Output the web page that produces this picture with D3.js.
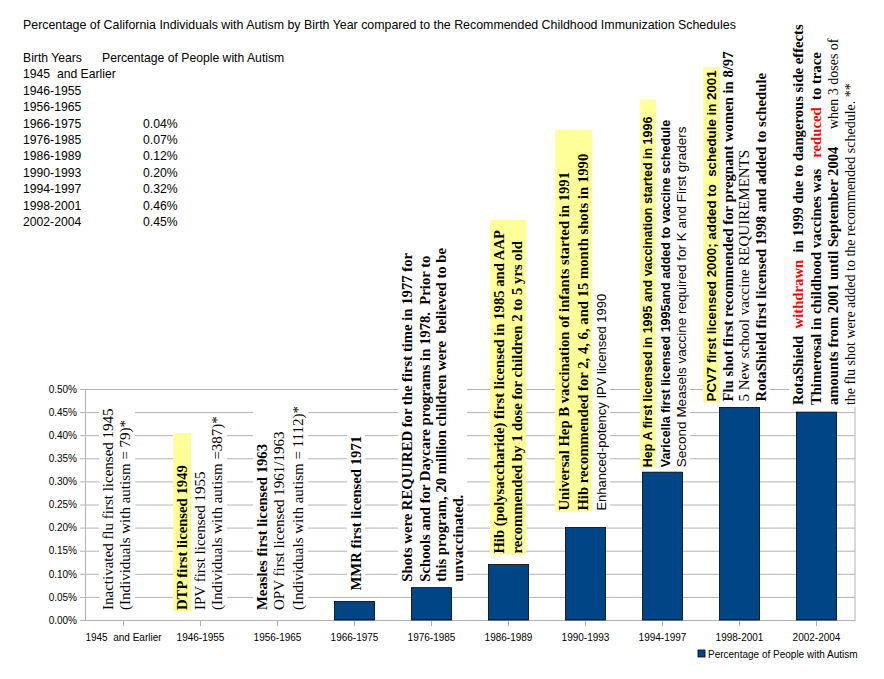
<!DOCTYPE html>
<html>
<head>
<meta charset="utf-8">
<script src="https://cdn.jsdelivr.net/npm/d3@7"></script>
<style>
  body { margin: 0; background: #fff; }
  text { white-space: pre; }
</style>
</head>
<body>
<div id="chart"></div>
<script>
// Chart data
const title = "Percentage of California Individuals with Autism by Birth Year compared to the Recommended Childhood Immunization Schedules";
const categories = ["1945  and Earlier", "1946-1955", "1956-1965", "1966-1975", "1976-1985", "1986-1989", "1990-1993", "1994-1997", "1998-2001", "2002-2004"];
const autismPct = [null, null, null, 0.04, 0.07, 0.12, 0.20, 0.32, 0.46, 0.45];
const yTicks = [0, 0.05, 0.10, 0.15, 0.20, 0.25, 0.30, 0.35, 0.40, 0.45, 0.50];
const tableHeaders = ["Birth Years", "Percentage of People with Autism"];
const seriesName = "Percentage of People with Autism";

// Vaccine notes for each birth-year group: lines of [style, text] segments
const notes = [
    [[["r", "Inactivated flu first licensed 1945"]],
     [["r", "(Individuals with autism = 79)*"]]],
    [[["b", "DTP first licensed 1949"]],
     [["r", "IPV first licensed 1955"]],
     [["r", "(Individuals with autism =387)*"]]],
    [[["b", "Measles first licensed 1963"]],
     [["r", "OPV first licensed 1961/1963"]],
     [["r", "(Individuals with autism = 1112)*"]]],
    [[["b", "MMR first licensed 1971"]]],
    [[["b", "Shots were REQUIRED for the first time in 1977 for"]],
     [["b", "Schools and for Daycare programs in 1978.  Prior to"]],
     [["b", "this program, 20 million children were  believed to be"]],
     [["b", "unvaccinated."]]],
    [[["b", "Hib (polysaccharide) first licensed in 1985 and AAP"]],
     [["b", "recommended by 1 dose for children 2 to 5 yrs old"]]],
    [[["b", "Universal Hep B vaccination of infants started in 1991"]],
     [["b", "Hib recommended for 2, 4, 6, and 15 month shots in 1990"]],
     [["s13", "Enhanced-potency IPV licensed 1990"]]],
    [[["sb", "Hep A first licensed in 1995 and vaccination started in 1996"]],
     [["sb", "Varicella first licensed 1995and added to vaccine schedule"]],
     [["s", "Second Measels vaccine required for K and First graders"]]],
    [[["sb2", "PCV7 first licensed 2000; added to  schedule in 2001"]],
     [["b", "Flu shot first recommended for pregnant women in 8/97"]],
     [["r", "5 New school vaccine REQUIREMENTS"]],
     [["b", "RotaShield first licensed 1998 and added to schedule"]]],
    [[["b", "RotaShield  "], ["red", "withdrawn"], ["b", "  in 1999 due to dangerous side effects"]],
     [["b", "Thimerosal in childhood vaccines was   "], ["red", "reduced"], ["b", "  to trace"]],
     [["b", "amounts from 2001 until September 2004"], ["r14", "     when 3 doses of"]],
     [["r14", "the flu shot were added to the recommended schedule. **"]]]
];

// Placement of the notes (offsets from the column centre, gap above bar)
const noteLayout = [
    { dx: [-16, 1], gap: 10 },
    { dx: [-19, -1, 16], gap: 10, hi: [0], extra: 32 },
    { dx: [-16, 1, 20], gap: 10 },
    { dx: [1], gap: 11 },
    { dx: [-25, -7, 9, 26], gap: 6 },
    { dx: [-10, 8], gap: 11, hi: [0, 1], extra: 10 },
    { dx: [-22, -3, 15], gap: 17, hi: [0, 1], extra: 24 },
    { dx: [-16, 2, 18], gap: 5, hi: [0], extra: 17 },
    { dx: [-29, -12, 4, 21], gap: 6, hi: [0], extra: 3 },
    { dx: [-19, -1, 16, 33], gap: 7 }
];

const SERIF = "'Liberation Serif', 'Times New Roman', serif";
const SANS = "'Liberation Sans', Arial, sans-serif";
const styles = {
    r:   { family: SERIF, size: 15, weight: "normal", fill: "#000" },
    r14: { family: SERIF, size: 14, weight: "normal", fill: "#000" },
    b:   { family: SERIF, size: 14.7, weight: "bold", fill: "#000" },
    red: { family: SERIF, size: 14.7, weight: "bold", fill: "#ff0000" },
    sb:  { family: SANS, size: 12.5, weight: "bold", fill: "#000" },
    sb2: { family: SANS, size: 13.3, weight: "bold", fill: "#000" },
    s:   { family: SANS, size: 13.5, weight: "normal", fill: "#000" },
    s13: { family: SANS, size: 13, weight: "normal", fill: "#000" }
};

const width = 884, height = 679;
const plot = { left: 85, right: 855, top: 389, bottom: 620 };
const gridColor = "#b3b3b3";

const svg = d3.select("#chart").append("svg")
    .attr("width", width)
    .attr("height", height)
    .style("display", "block");

// Title
svg.append("text")
    .attr("x", 23)
    .attr("y", 29)
    .style("font-family", SANS)
    .style("font-size", "12.4px")
    .text(title);

// Data table
const rowY = i => 62 + i * 16.4;
svg.append("text").attr("x", 23).attr("y", rowY(0))
    .style("font-family", SANS).style("font-size", "12.2px").text(tableHeaders[0]);
svg.append("text").attr("x", 102).attr("y", rowY(0))
    .style("font-family", SANS).style("font-size", "12.2px").text(tableHeaders[1]);

categories.forEach((c, i) => {
    svg.append("text").attr("x", 23).attr("y", rowY(i + 1))
        .style("font-family", SANS).style("font-size", "12.2px").text(c);
    if (autismPct[i] != null) {
        svg.append("text").attr("x", 143).attr("y", rowY(i + 1))
            .style("font-family", SANS).style("font-size", "12.2px")
            .text(autismPct[i].toFixed(2) + "%");
    }
});

// Scales
const x = d3.scaleBand()
    .domain(categories)
    .range([plot.left, plot.right])
    .paddingInner(0.48)
    .paddingOuter(0.24);

const y = d3.scaleLinear()
    .domain([0, 0.5])
    .range([plot.bottom, plot.top]);

// Grid lines
const grid = svg.append("g")
    .attr("transform", `translate(${plot.left},0)`)
    .call(d3.axisLeft(y).tickValues(yTicks).tickSize(-(plot.right - plot.left)).tickFormat(""));
grid.select(".domain").remove();
grid.selectAll("line").attr("stroke", gridColor);

// Right border
svg.append("line")
    .attr("x1", plot.right).attr("x2", plot.right)
    .attr("y1", y(0.5)).attr("y2", y(0))
    .attr("stroke", gridColor);

// Y axis
const yAxis = svg.append("g")
    .attr("transform", `translate(${plot.left},0)`)
    .call(d3.axisLeft(y).tickValues(yTicks).tickSize(5).tickSizeOuter(0).tickPadding(3)
        .tickFormat(d => d.toFixed(2) + "%"));
yAxis.select(".domain").attr("stroke", gridColor);
yAxis.selectAll("line").attr("stroke", gridColor);
yAxis.selectAll("text").style("font-family", SANS).style("font-size", "10px").attr("fill", "#000");

// X axis
const xAxis = svg.append("g")
    .attr("transform", `translate(0,${plot.bottom})`)
    .call(d3.axisBottom(x).tickSize(6).tickSizeOuter(0).tickPadding(8));
xAxis.select(".domain").attr("stroke", gridColor);
xAxis.selectAll("line").attr("stroke", gridColor);
xAxis.selectAll("text").style("font-family", SANS).style("font-size", "10px").attr("fill", "#000");

// Bars
const barData = categories.map((c, i) => ({ cat: c, v: autismPct[i] })).filter(d => d.v != null);
svg.append("g").selectAll("rect")
    .data(barData)
    .enter().append("rect")
    .attr("x", d => x(d.cat))
    .attr("y", d => y(d.v))
    .attr("width", x.bandwidth())
    .attr("height", d => y(0) - y(d.v))
    .attr("fill", "#004586")
    .attr("stroke", "#000")
    .attr("stroke-width", 0.8);

// Notes
const boxLayer = svg.append("g");
const textLayer = svg.append("g");
const svgRect = svg.node().getBoundingClientRect();

notes.forEach((lines, i) => {
    const lay = noteLayout[i];
    const cx = x(categories[i]) + x.bandwidth() / 2;
    const baseY = (autismPct[i] != null ? y(autismPct[i]) : y(0)) - lay.gap;
    const boxes = [];

    lines.forEach((segs, j) => {
        const t = textLayer.append("text")
            .attr("transform", `translate(${cx + lay.dx[j]},${baseY}) rotate(-90)`)
            .attr("dy", "0.35em");
        segs.forEach(([k, str]) => {
            const st = styles[k];
            t.append("tspan")
                .style("font-family", st.family)
                .style("font-size", st.size + "px")
                .style("font-weight", st.weight)
                .attr("fill", st.fill)
                .text(str);
        });
        const r = t.node().getBoundingClientRect();
        boxes.push({ x0: r.left - svgRect.left, x1: r.right - svgRect.left, y0: r.top - svgRect.top, y1: r.bottom - svgRect.top });
    });

    // white backing box hides the grid lines behind the notes
    const all = {
        x0: d3.min(boxes, b => b.x0) - 1, x1: d3.max(boxes, b => b.x1) + 1,
        y0: d3.min(boxes, b => b.y0) - 2, y1: d3.max(boxes, b => b.y1) + 2
    };
    boxLayer.append("rect")
        .attr("x", all.x0).attr("y", all.y0)
        .attr("width", all.x1 - all.x0).attr("height", all.y1 - all.y0)
        .attr("fill", "#fff");

    if (lay.hi) {
        const hb = lay.hi.map(j => boxes[j]);
        const h = {
            x0: d3.min(hb, b => b.x0) - 1, x1: d3.max(hb, b => b.x1) + 1,
            y0: d3.min(hb, b => b.y0) - lay.extra, y1: d3.max(hb, b => b.y1) + 1
        };
        boxLayer.append("rect")
            .attr("x", h.x0).attr("y", h.y0)
            .attr("width", h.x1 - h.x0).attr("height", h.y1 - h.y0)
            .attr("fill", "#ffff99");
    }
});

// Legend
const legend = svg.append("g").attr("transform", "translate(698,650)");
legend.append("rect")
    .attr("width", 7).attr("height", 7)
    .attr("fill", "#004586").attr("stroke", "#000").attr("stroke-width", 0.8);
legend.append("text")
    .attr("x", 10).attr("y", 7.5)
    .style("font-family", SANS).style("font-size", "10px")
    .text(seriesName);
</script>
</body>
</html>
